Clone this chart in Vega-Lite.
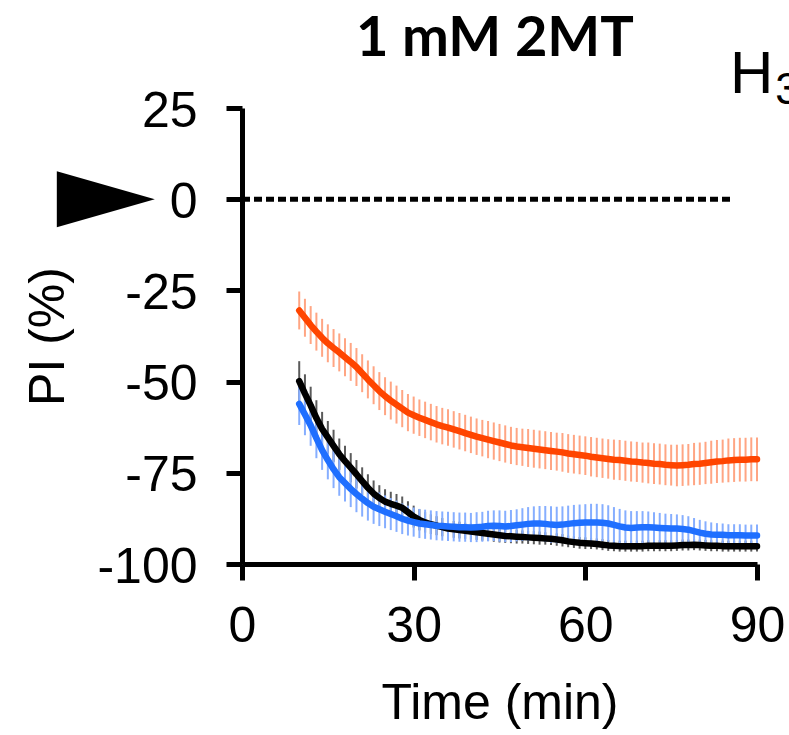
{
  "$schema": "https://vega.github.io/schema/vega-lite/v6.json",
  "width": 515,
  "height": 456,
  "autosize": {"type": "none"},
  "padding": {"left": 242, "top": 108, "right": 32, "bottom": 171},
  "background": "white",
  "config": {
    "view": {"stroke": null},
    "axis": {
      "grid": false,
      "domainColor": "black",
      "domainWidth": 5,
      "tickColor": "black",
      "tickWidth": 5,
      "tickSize": 16,
      "labelFlush": false,
      "labelFont": "Liberation Sans",
      "labelFontSize": 50,
      "labelColor": "black",
      "titleFont": "Liberation Sans",
      "titleFontSize": 50,
      "titleFontWeight": "normal",
      "titleColor": "black"
    }
  },
  "data": {
    "values": [
      {"t":10,"g":"black","m":-49.9,"e":5.5},{"t":11,"g":"black","m":-53.3,"e":5.3},{"t":12,"g":"black","m":-56.5,"e":5.1},{"t":13,"g":"black","m":-60.0,"e":4.9},{"t":14,"g":"black","m":-63.0,"e":4.7},{"t":15,"g":"black","m":-65.3,"e":4.5},{"t":16,"g":"black","m":-67.6,"e":4.4},{"t":17,"g":"black","m":-69.9,"e":4.3},{"t":18,"g":"black","m":-71.8,"e":4.2},{"t":19,"g":"black","m":-73.6,"e":4.0},
      {"t":20,"g":"black","m":-75.4,"e":3.9},{"t":21,"g":"black","m":-77.3,"e":3.8},{"t":22,"g":"black","m":-79.1,"e":3.7},{"t":23,"g":"black","m":-80.7,"e":3.6},{"t":24,"g":"black","m":-81.9,"e":3.5},{"t":25,"g":"black","m":-82.9,"e":3.4},{"t":26,"g":"black","m":-83.5,"e":3.3},{"t":27,"g":"black","m":-84.0,"e":3.2},{"t":28,"g":"black","m":-84.6,"e":3.1},{"t":29,"g":"black","m":-85.8,"e":3.0},
      {"t":30,"g":"black","m":-87.0,"e":3.0},{"t":31,"g":"black","m":-87.9,"e":2.9},{"t":32,"g":"black","m":-88.6,"e":2.8},{"t":33,"g":"black","m":-89.1,"e":2.7},{"t":34,"g":"black","m":-89.5,"e":2.6},{"t":35,"g":"black","m":-89.9,"e":2.5},{"t":36,"g":"black","m":-90.3,"e":2.4},{"t":37,"g":"black","m":-90.5,"e":2.3},{"t":38,"g":"black","m":-90.7,"e":2.3},{"t":39,"g":"black","m":-90.9,"e":2.2},
      {"t":40,"g":"black","m":-91.1,"e":2.2},{"t":41,"g":"black","m":-91.3,"e":2.1},{"t":42,"g":"black","m":-91.5,"e":2.1},{"t":43,"g":"black","m":-91.7,"e":2.0},{"t":44,"g":"black","m":-91.9,"e":2.0},{"t":45,"g":"black","m":-92.1,"e":2.0},{"t":46,"g":"black","m":-92.3,"e":1.9},{"t":47,"g":"black","m":-92.4,"e":1.9},{"t":48,"g":"black","m":-92.5,"e":1.9},{"t":49,"g":"black","m":-92.6,"e":1.8},
      {"t":50,"g":"black","m":-92.7,"e":1.8},{"t":51,"g":"black","m":-92.8,"e":1.8},{"t":52,"g":"black","m":-92.9,"e":1.8},{"t":53,"g":"black","m":-93.0,"e":1.7},{"t":54,"g":"black","m":-93.1,"e":1.7},{"t":55,"g":"black","m":-93.3,"e":1.7},{"t":56,"g":"black","m":-93.5,"e":1.7},{"t":57,"g":"black","m":-93.8,"e":1.6},{"t":58,"g":"black","m":-94.0,"e":1.6},{"t":59,"g":"black","m":-94.2,"e":1.6},
      {"t":60,"g":"black","m":-94.3,"e":1.6},{"t":61,"g":"black","m":-94.4,"e":1.5},{"t":62,"g":"black","m":-94.5,"e":1.5},{"t":63,"g":"black","m":-94.7,"e":1.5},{"t":64,"g":"black","m":-94.9,"e":1.5},{"t":65,"g":"black","m":-95.0,"e":1.5},{"t":66,"g":"black","m":-95.1,"e":1.5},{"t":67,"g":"black","m":-95.1,"e":1.5},{"t":68,"g":"black","m":-95.1,"e":1.5},{"t":69,"g":"black","m":-95.1,"e":1.5},
      {"t":70,"g":"black","m":-95.1,"e":1.5},{"t":71,"g":"black","m":-95.0,"e":1.5},{"t":72,"g":"black","m":-95.0,"e":1.5},{"t":73,"g":"black","m":-95.0,"e":1.5},{"t":74,"g":"black","m":-95.0,"e":1.5},{"t":75,"g":"black","m":-95.0,"e":1.5},{"t":76,"g":"black","m":-94.9,"e":1.5},{"t":77,"g":"black","m":-94.8,"e":1.5},{"t":78,"g":"black","m":-94.8,"e":1.5},{"t":79,"g":"black","m":-94.7,"e":1.5},
      {"t":80,"g":"black","m":-94.8,"e":1.5},{"t":81,"g":"black","m":-94.9,"e":1.5},{"t":82,"g":"black","m":-95.0,"e":1.5},{"t":83,"g":"black","m":-95.0,"e":1.5},{"t":84,"g":"black","m":-95.1,"e":1.5},{"t":85,"g":"black","m":-95.1,"e":1.5},{"t":86,"g":"black","m":-95.1,"e":1.5},{"t":87,"g":"black","m":-95.1,"e":1.5},{"t":88,"g":"black","m":-95.1,"e":1.5},{"t":89,"g":"black","m":-95.1,"e":1.5},{"t":90,"g":"black","m":-95.1,"e":1.5},
      {"t":10,"g":"blue","m":-56.1,"e":5.8},{"t":11,"g":"blue","m":-59.0,"e":5.7},{"t":12,"g":"blue","m":-62.0,"e":5.6},{"t":13,"g":"blue","m":-65.5,"e":5.5},{"t":14,"g":"blue","m":-68.8,"e":5.4},{"t":15,"g":"blue","m":-71.5,"e":5.3},{"t":16,"g":"blue","m":-74.0,"e":5.2},{"t":17,"g":"blue","m":-76.2,"e":5.1},{"t":18,"g":"blue","m":-77.8,"e":5.1},{"t":19,"g":"blue","m":-79.4,"e":5.0},
      {"t":20,"g":"blue","m":-80.8,"e":5.0},{"t":21,"g":"blue","m":-82.1,"e":4.9},{"t":22,"g":"blue","m":-83.3,"e":4.8},{"t":23,"g":"blue","m":-84.3,"e":4.7},{"t":24,"g":"blue","m":-85.0,"e":4.6},{"t":25,"g":"blue","m":-85.7,"e":4.5},{"t":26,"g":"blue","m":-86.3,"e":4.4},{"t":27,"g":"blue","m":-86.9,"e":4.3},{"t":28,"g":"blue","m":-87.6,"e":4.2},{"t":29,"g":"blue","m":-88.1,"e":4.1},
      {"t":30,"g":"blue","m":-88.5,"e":4.0},{"t":31,"g":"blue","m":-88.9,"e":4.0},{"t":32,"g":"blue","m":-89.1,"e":4.0},{"t":33,"g":"blue","m":-89.3,"e":4.0},{"t":34,"g":"blue","m":-89.5,"e":4.0},{"t":35,"g":"blue","m":-89.6,"e":4.0},{"t":36,"g":"blue","m":-89.7,"e":4.0},{"t":37,"g":"blue","m":-89.8,"e":4.0},{"t":38,"g":"blue","m":-89.9,"e":4.0},{"t":39,"g":"blue","m":-89.9,"e":4.0},
      {"t":40,"g":"blue","m":-90.0,"e":4.0},{"t":41,"g":"blue","m":-89.9,"e":4.1},{"t":42,"g":"blue","m":-89.8,"e":4.1},{"t":43,"g":"blue","m":-89.6,"e":4.2},{"t":44,"g":"blue","m":-89.5,"e":4.2},{"t":45,"g":"blue","m":-89.6,"e":4.3},{"t":46,"g":"blue","m":-89.7,"e":4.3},{"t":47,"g":"blue","m":-89.6,"e":4.4},{"t":48,"g":"blue","m":-89.4,"e":4.4},{"t":49,"g":"blue","m":-89.2,"e":4.5},
      {"t":50,"g":"blue","m":-89.0,"e":4.6},{"t":51,"g":"blue","m":-88.9,"e":4.7},{"t":52,"g":"blue","m":-88.9,"e":4.8},{"t":53,"g":"blue","m":-89.0,"e":4.9},{"t":54,"g":"blue","m":-89.2,"e":5.0},{"t":55,"g":"blue","m":-89.3,"e":5.0},{"t":56,"g":"blue","m":-89.2,"e":5.0},{"t":57,"g":"blue","m":-89.0,"e":5.0},{"t":58,"g":"blue","m":-88.8,"e":5.0},{"t":59,"g":"blue","m":-88.7,"e":5.0},
      {"t":60,"g":"blue","m":-88.6,"e":5.0},{"t":61,"g":"blue","m":-88.6,"e":5.1},{"t":62,"g":"blue","m":-88.6,"e":5.1},{"t":63,"g":"blue","m":-88.7,"e":5.1},{"t":64,"g":"blue","m":-88.9,"e":5.0},{"t":65,"g":"blue","m":-89.3,"e":4.9},{"t":66,"g":"blue","m":-89.7,"e":4.8},{"t":67,"g":"blue","m":-90.0,"e":4.7},{"t":68,"g":"blue","m":-90.1,"e":4.6},{"t":69,"g":"blue","m":-90.0,"e":4.5},
      {"t":70,"g":"blue","m":-89.9,"e":4.4},{"t":71,"g":"blue","m":-89.9,"e":4.3},{"t":72,"g":"blue","m":-90.0,"e":4.2},{"t":73,"g":"blue","m":-90.1,"e":4.1},{"t":74,"g":"blue","m":-90.2,"e":4.0},{"t":75,"g":"blue","m":-90.3,"e":4.0},{"t":76,"g":"blue","m":-90.3,"e":3.9},{"t":77,"g":"blue","m":-90.4,"e":3.8},{"t":78,"g":"blue","m":-90.6,"e":3.7},{"t":79,"g":"blue","m":-91.0,"e":3.6},
      {"t":80,"g":"blue","m":-91.4,"e":3.5},{"t":81,"g":"blue","m":-91.7,"e":3.4},{"t":82,"g":"blue","m":-91.9,"e":3.3},{"t":83,"g":"blue","m":-92.0,"e":3.2},{"t":84,"g":"blue","m":-92.0,"e":3.1},{"t":85,"g":"blue","m":-92.1,"e":3.0},{"t":86,"g":"blue","m":-92.1,"e":3.0},{"t":87,"g":"blue","m":-92.1,"e":3.0},{"t":88,"g":"blue","m":-92.2,"e":3.0},{"t":89,"g":"blue","m":-92.2,"e":3.0},{"t":90,"g":"blue","m":-92.2,"e":3.0},
      {"t":10,"g":"orange","m":-30.5,"e":5.2},{"t":11,"g":"orange","m":-32.5,"e":5.2},{"t":12,"g":"orange","m":-34.5,"e":5.2},{"t":13,"g":"orange","m":-36.3,"e":5.2},{"t":14,"g":"orange","m":-38.0,"e":5.2},{"t":15,"g":"orange","m":-39.5,"e":5.2},{"t":16,"g":"orange","m":-40.8,"e":5.2},{"t":17,"g":"orange","m":-42.0,"e":5.2},{"t":18,"g":"orange","m":-43.3,"e":5.2},{"t":19,"g":"orange","m":-44.6,"e":5.2},
      {"t":20,"g":"orange","m":-46.0,"e":5.2},{"t":21,"g":"orange","m":-47.7,"e":5.2},{"t":22,"g":"orange","m":-49.4,"e":5.2},{"t":23,"g":"orange","m":-51.0,"e":5.2},{"t":24,"g":"orange","m":-52.6,"e":5.2},{"t":25,"g":"orange","m":-54.0,"e":5.2},{"t":26,"g":"orange","m":-55.2,"e":5.2},{"t":27,"g":"orange","m":-56.3,"e":5.2},{"t":28,"g":"orange","m":-57.4,"e":5.1},{"t":29,"g":"orange","m":-58.5,"e":5.1},
      {"t":30,"g":"orange","m":-59.2,"e":5.1},{"t":31,"g":"orange","m":-59.9,"e":5.0},{"t":32,"g":"orange","m":-60.5,"e":5.0},{"t":33,"g":"orange","m":-61.1,"e":5.0},{"t":34,"g":"orange","m":-61.7,"e":5.0},{"t":35,"g":"orange","m":-62.2,"e":5.0},{"t":36,"g":"orange","m":-62.6,"e":5.0},{"t":37,"g":"orange","m":-63.1,"e":5.0},{"t":38,"g":"orange","m":-63.6,"e":5.0},{"t":39,"g":"orange","m":-64.1,"e":5.0},
      {"t":40,"g":"orange","m":-64.6,"e":5.0},{"t":41,"g":"orange","m":-65.1,"e":5.0},{"t":42,"g":"orange","m":-65.5,"e":5.0},{"t":43,"g":"orange","m":-65.9,"e":5.1},{"t":44,"g":"orange","m":-66.3,"e":5.1},{"t":45,"g":"orange","m":-66.7,"e":5.1},{"t":46,"g":"orange","m":-67.1,"e":5.1},{"t":47,"g":"orange","m":-67.5,"e":5.1},{"t":48,"g":"orange","m":-67.8,"e":5.1},{"t":49,"g":"orange","m":-68.0,"e":5.1},
      {"t":50,"g":"orange","m":-68.2,"e":5.2},{"t":51,"g":"orange","m":-68.4,"e":5.2},{"t":52,"g":"orange","m":-68.6,"e":5.2},{"t":53,"g":"orange","m":-68.8,"e":5.2},{"t":54,"g":"orange","m":-69.0,"e":5.2},{"t":55,"g":"orange","m":-69.2,"e":5.2},{"t":56,"g":"orange","m":-69.4,"e":5.3},{"t":57,"g":"orange","m":-69.7,"e":5.3},{"t":58,"g":"orange","m":-69.9,"e":5.3},{"t":59,"g":"orange","m":-70.1,"e":5.3},
      {"t":60,"g":"orange","m":-70.3,"e":5.3},{"t":61,"g":"orange","m":-70.6,"e":5.4},{"t":62,"g":"orange","m":-70.8,"e":5.4},{"t":63,"g":"orange","m":-71.0,"e":5.4},{"t":64,"g":"orange","m":-71.2,"e":5.4},{"t":65,"g":"orange","m":-71.4,"e":5.5},{"t":66,"g":"orange","m":-71.5,"e":5.5},{"t":67,"g":"orange","m":-71.7,"e":5.5},{"t":68,"g":"orange","m":-71.9,"e":5.5},{"t":69,"g":"orange","m":-72.0,"e":5.5},
      {"t":70,"g":"orange","m":-72.2,"e":5.5},{"t":71,"g":"orange","m":-72.3,"e":5.6},{"t":72,"g":"orange","m":-72.5,"e":5.6},{"t":73,"g":"orange","m":-72.6,"e":5.6},{"t":74,"g":"orange","m":-72.8,"e":5.6},{"t":75,"g":"orange","m":-72.9,"e":5.6},{"t":76,"g":"orange","m":-73.0,"e":5.7},{"t":77,"g":"orange","m":-72.9,"e":5.7},{"t":78,"g":"orange","m":-72.8,"e":5.7},{"t":79,"g":"orange","m":-72.6,"e":5.8},
      {"t":80,"g":"orange","m":-72.5,"e":5.8},{"t":81,"g":"orange","m":-72.3,"e":5.8},{"t":82,"g":"orange","m":-72.1,"e":5.9},{"t":83,"g":"orange","m":-71.9,"e":5.9},{"t":84,"g":"orange","m":-71.8,"e":5.9},{"t":85,"g":"orange","m":-71.6,"e":6.0},{"t":86,"g":"orange","m":-71.5,"e":6.0},{"t":87,"g":"orange","m":-71.4,"e":6.0},{"t":88,"g":"orange","m":-71.4,"e":6.0},{"t":89,"g":"orange","m":-71.3,"e":6.0},{"t":90,"g":"orange","m":-71.3,"e":6.0}
    ]
  },
  "resolve": {"scale": {"color": "independent"}},
  "layer": [
    {
      "mark": {"type": "errorbar", "thickness": 2},
      "encoding": {
        "x": {"field": "t", "type": "quantitative", "scale": {"domain": [0, 90], "nice": false, "zero": false},
              "axis": {"values": [0, 30, 60, 90], "title": "Time (min)", "labelPadding": 21, "titlePadding": 27}},
        "y": {"field": "m", "type": "quantitative", "scale": {"domain": [-100, 25], "nice": false, "zero": false},
              "axis": {"values": [-100, -75, -50, -25, 0, 25], "title": "PI (%)", "labelPadding": 29, "labelOffset": 3, "titlePadding": 23,
                       "labelExpr": "datum.value < 0 ? '-' + abs(datum.value) : '' + datum.value"}},
        "yError": {"field": "e"},
        "color": {"field": "g", "type": "nominal", "legend": null,
                  "scale": {"domain": ["black", "blue", "orange"], "range": ["#5a5a5a", "#86AEFF", "#FFA583"]}}
      }
    },
    {
      "mark": {"type": "line", "strokeWidth": 6.5, "strokeCap": "round", "strokeJoin": "round"},
      "encoding": {
        "x": {"field": "t", "type": "quantitative"},
        "y": {"field": "m", "type": "quantitative"},
        "color": {"field": "g", "type": "nominal", "legend": null,
                  "scale": {"domain": ["black", "blue", "orange"], "range": ["#000000", "#1F6FFF", "#FF4500"]}}
      }
    },
    {
      "data": {"values": [{}]},
      "mark": {"type": "rule", "strokeDash": [8, 4], "strokeWidth": 5, "color": "black"},
      "encoding": {
        "x": {"datum": 0, "type": "quantitative"},
        "x2": {"datum": 85.5},
        "y": {"datum": 0, "type": "quantitative"}
      }
    },
    {
      "data": {"values": [{}]},
      "mark": {"type": "point", "shape": "M-1,-0.571L1,0L-1,0.571Z", "size": 9604, "filled": true, "color": "black", "opacity": 1},
      "encoding": {
        "x": {"datum": -23.8, "type": "quantitative"},
        "y": {"datum": 0, "type": "quantitative"}
      }
    },
    {
      "data": {"values": [{}]},
      "mark": {"type": "text", "text": "1 mM 2MT", "font": "Lato", "fontSize": 56, "fontWeight": "bold", "align": "center", "baseline": "alphabetic", "color": "black"},
      "encoding": {
        "x": {"datum": 44.2, "type": "quantitative"},
        "y": {"datum": 39.3, "type": "quantitative"}
      }
    },
    {
      "data": {"values": [{}]},
      "mark": {"type": "text", "text": "H", "font": "Liberation Sans", "fontSize": 60, "align": "left", "baseline": "alphabetic", "color": "black"},
      "encoding": {
        "x": {"datum": 85.3, "type": "quantitative"},
        "y": {"datum": 29.1, "type": "quantitative"}
      }
    },
    {
      "data": {"values": [{}]},
      "mark": {"type": "text", "text": "3", "font": "Liberation Sans", "fontSize": 44, "align": "left", "baseline": "alphabetic", "color": "black"},
      "encoding": {
        "x": {"datum": 93.2, "type": "quantitative"},
        "y": {"datum": 26.2, "type": "quantitative"}
      }
    }
  ]
}
